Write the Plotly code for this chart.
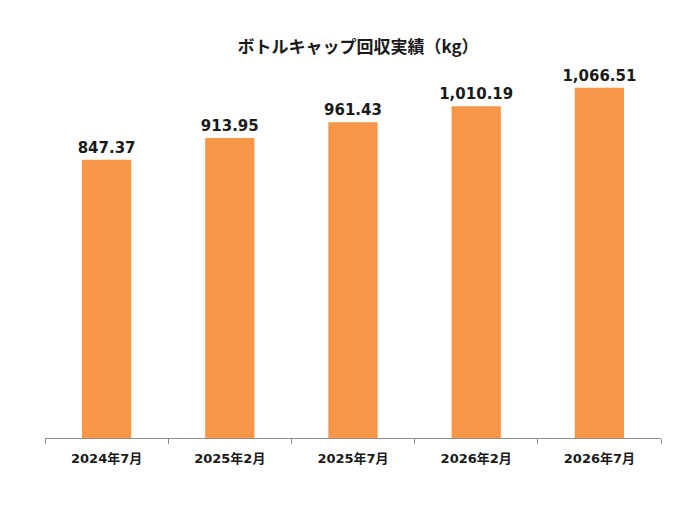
import plotly.graph_objects as go

months = ['2024年7月', '2025年2月', '2025年7月', '2026年2月', '2026年7月']
caps_kg = [847.37, 913.95, 961.43, 1010.19, 1066.51]

font_main = 'DejaVu Sans, Noto Sans CJK JP'

fig = go.Figure()
fig.add_trace(go.Bar(
    x=months, y=caps_kg,
    marker=dict(color='#F79646', line=dict(width=0)),
    texttemplate='%{y:,.2f}', textposition='outside', constraintext='none',
    textfont=dict(family=font_main, size=15, color='#1a1a1a', weight='bold'),
    cliponaxis=False,
))

fig.update_layout(
    width=700, height=506,
    margin=dict(l=37, r=47, t=36, b=76),
    paper_bgcolor='white', plot_bgcolor='white',
    bargap=0.6,
    showlegend=False,
    title=dict(text='<b>ボトルキャップ回収実績（kg）</b>', x=0.5, xanchor='center',
               y=1 - 39 / 506, yanchor='middle',
               font=dict(family='Noto Sans CJK JP', size=17, color='#1a1a1a')),
)
fig.update_xaxes(
    showline=True, linecolor='#8c8c8c', linewidth=1,
    ticks='outside', tickson='boundaries', ticklen=5, tickcolor='#8c8c8c',
    ticklabelstandoff=8,
    tickfont=dict(family=font_main, size=13, color='#1a1a1a', weight='bold'),
    showgrid=False,
)
fig.update_yaxes(range=[0, 1200], visible=False, showgrid=False)

fig.write_html('out.html')
